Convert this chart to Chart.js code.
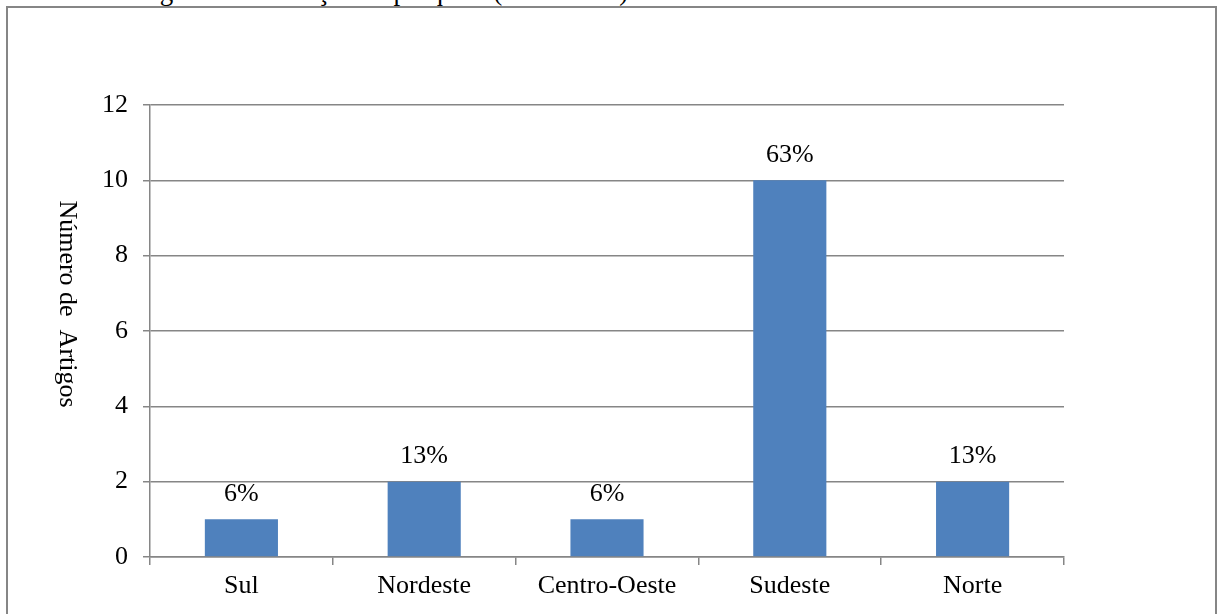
<!DOCTYPE html>
<html>
<head>
<meta charset="utf-8">
<script src="https://cdn.jsdelivr.net/npm/chart.js@4/dist/chart.umd.min.js"></script>
<style>
  body { margin: 0; background: #fff; }
  #wrap { position: relative; width: 1217px; height: 614px; overflow: hidden; }
  #caption {
    position: absolute; left: 0; top: -22px; white-space: nowrap;
    font: 27px/27px "Liberation Serif", "Times New Roman", serif; color: #000;
  }
  #frame {
    position: absolute; left: 6px; top: 6px; width: 1207px; height: 700px;
    border: 2px solid #868686;
  }
  #chart { position: absolute; left: 0; top: 0; }
</style>
</head>
<body>
<div id="wrap">
  <div id="caption">Gráfico 1 – Região de realização da pesquisa (2006-2015)</div>
  <div id="frame"></div>
  <canvas id="chart" width="1217" height="614"></canvas>
</div>
<script>
// chart data
const categories = ['Sul', 'Nordeste', 'Centro-Oeste', 'Sudeste', 'Norte'];
const articleCounts = [1, 2, 1, 10, 2];
const percentLabels = ['6%', '13%', '6%', '63%', '13%'];
const yAxisTitle = 'Número de  Artigos';
const yMax = 12;
const yStep = 2;

const FONT = '"Liberation Serif", "Times New Roman", serif';
const GRID = '#868686';

// percentages above each bar
const barLabels = {
  id: 'barLabels',
  afterDatasetsDraw(chart) {
    const ctx = chart.ctx;
    const meta = chart.getDatasetMeta(0);
    ctx.save();
    ctx.font = '26px ' + FONT;
    ctx.fillStyle = '#000';
    ctx.textAlign = 'center';
    ctx.textBaseline = 'middle';
    meta.data.forEach((bar, i) => {
      ctx.fillText(percentLabels[i], bar.x, bar.y - 25);
    });
    ctx.restore();
  }
};

// y title reads top to bottom
const yTitle = {
  id: 'yTitle',
  afterDraw(chart) {
    const ctx = chart.ctx;
    const area = chart.chartArea;
    ctx.save();
    ctx.translate(67, (area.top + area.bottom) / 2 - 27);
    ctx.rotate(Math.PI / 2);
    ctx.font = '26px ' + FONT;
    ctx.fillStyle = '#000';
    ctx.textAlign = 'center';
    ctx.textBaseline = 'middle';
    ctx.fillText(yAxisTitle, 0, 0);
    ctx.restore();
  }
};

new Chart(document.getElementById('chart'), {
  type: 'bar',
  data: {
    labels: categories,
    datasets: [{
      data: articleCounts,
      backgroundColor: '#4F81BD',
      barPercentage: 0.4,
      categoryPercentage: 1.0,
    }],
  },
  options: {
    responsive: false,
    animation: false,
    devicePixelRatio: 1,
    layout: { padding: { left: 0, top: 105, right: 153, bottom: 0 } },
    plugins: {
      legend: { display: false },
      tooltip: { enabled: false },
    },
    scales: {
      x: {
        afterFit(scale) { scale.height = 57; },
        grid: {
          display: true,
          drawOnChartArea: false,
          drawTicks: true,
          tickLength: 8,
          color: GRID,
          lineWidth: 1.5,
          offset: true,
        },
        border: { display: true, color: GRID, width: 1.5 },
        ticks: {
          color: '#000',
          padding: 6,
          font: { family: FONT, size: 26 },
        },
      },
      y: {
        min: 0,
        max: yMax,
        afterFit(scale) { scale.width = 150; },
        grid: {
          color: GRID,
          lineWidth: 1.5,
          drawTicks: true,
          tickLength: 7,
        },
        border: { display: true, color: GRID, width: 1.5 },
        ticks: {
          stepSize: yStep,
          color: '#000',
          padding: 15,
          font: { family: FONT, size: 26 },
        },
      },
    },
  },
  plugins: [barLabels, yTitle],
});
</script>
</body>
</html>
